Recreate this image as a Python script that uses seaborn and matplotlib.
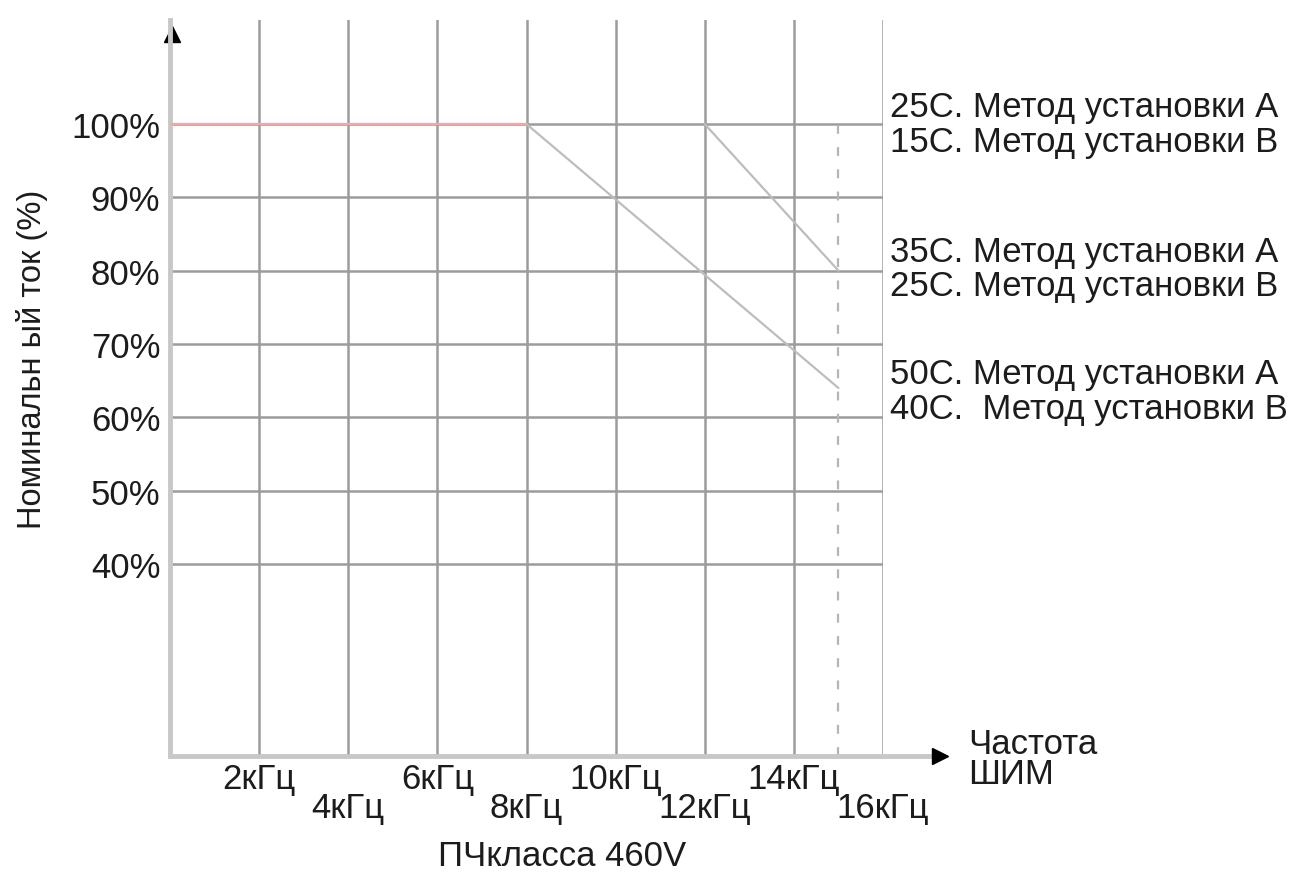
import numpy as np
import pandas as pd
import matplotlib
matplotlib.use('Agg')
import matplotlib.pyplot as plt
import seaborn as sns

sns.set_theme(style='white')
plt.rcParams['font.family'] = ['Liberation Sans', 'DejaVu Sans']

# Данные: частота ШИМ (кГц) и номинальный ток (%)
freq_ticks = [2, 4, 6, 8, 10, 12, 14, 16]
freq_labels = ['2кГц', '4кГц', '6кГц', '8кГц', '10кГц', '12кГц', '14кГц', '16кГц']
pct_ticks = [40, 50, 60, 70, 80, 90, 100]
pct_labels = ['40%', '50%', '60%', '70%', '80%', '90%', '100%']

# Кривые снижения тока
curve_25_x = [0, 8]
curve_25_y = [100, 100]
curve_35_x = [12, 15]
curve_35_y = [100, 80]
curve_50_x = [8, 15]
curve_50_y = [100, 64]

# Подписи справа
right_labels = ['25С. Метод установки А\n15С. Метод установки В',
                '35С. Метод установки А\n25С. Метод установки В',
                '50С. Метод установки А\n40С.  Метод установки В']
right_label_y = [100, 80.3, 63.6]

limit_freq = 15  # пунктир

txt_color = '#1c1c1c'

fig = plt.figure(figsize=(12.98, 8.79), dpi=100)
ax = fig.add_axes([0.131, 0.1388, 0.5493, 0.8373])

ax.set_xlim(0, 16)
ax.set_ylim(13.8, 114.2)

grid_color = '#9c9c9c'
# сетка
for y in pct_ticks:
    ax.axhline(y, color=grid_color, lw=1.8, zorder=1)
for x in freq_ticks:
    ax.axvline(x, color=grid_color, lw=1.8, zorder=1)
ax.vlines(limit_freq, 13.8, 101.5, colors='#b5b5b5', lw=1.6,
          linestyles=(0, (4, 6)), zorder=1)

df25 = pd.DataFrame({'f': curve_25_x, 'i': curve_25_y})
df35 = pd.DataFrame({'f': curve_35_x, 'i': curve_35_y})
df50 = pd.DataFrame({'f': curve_50_x, 'i': curve_50_y})
sns.lineplot(data=df25, x='f', y='i', ax=ax, color='#f3a8a8', lw=1.6, zorder=3)
sns.lineplot(data=df50, x='f', y='i', ax=ax, color='#bdbdbd', lw=1.6, zorder=3)
sns.lineplot(data=df35, x='f', y='i', ax=ax, color='#bdbdbd', lw=1.6, zorder=3)

ax.set_xticks(freq_ticks)
ax.set_xticklabels(freq_labels, fontsize=25)
ax.set_yticks(pct_ticks)
ax.set_yticklabels(pct_labels, fontsize=25)
ax.tick_params(axis='both', length=0, colors=txt_color)
ax.tick_params(axis='y', pad=7)
for i, tick in enumerate(ax.xaxis.get_major_ticks()):
    tick.set_pad(4 if i % 2 == 0 else 25)

ax.set_xlabel('ПЧкласса 460V', fontsize=25, color=txt_color)
ax.xaxis.set_label_coords(0.55, -0.113)
ax.set_ylabel('Номинальн ый ток (%)', fontsize=23.5, color=txt_color)
ax.yaxis.set_label_coords(-0.171, 0.54)

for side in ['top', 'right', 'bottom']:
    ax.spines[side].set_visible(False)
ax.spines['left'].set_color('#c8c8c8')
ax.spines['left'].set_linewidth(3.5)

# ось X со стрелкой
ax.plot([0, 1.075], [0, 0], transform=ax.transAxes, color='#c8c8c8',
        lw=3.5, clip_on=False, zorder=2)
ax.plot([1.08], [0.0], transform=ax.transAxes, marker='>', color='black',
        ms=11, clip_on=False)
ax.plot([0.003], [0.981], transform=ax.transAxes, marker='^', color='black',
        ms=11, clip_on=False)

ax.text(1.12, -0.003, 'Частота\nШИМ', transform=ax.transAxes, fontsize=25,
        va='center', ha='left', color=txt_color, linespacing=0.9)

for txt, y in zip(right_labels, right_label_y):
    ax.text(1.01, y, txt, transform=ax.get_yaxis_transform(), fontsize=25,
            va='center', ha='left', color=txt_color, linespacing=1.05)

ax.set_facecolor('white')
fig.savefig('out.png', dpi=100, facecolor='white')
